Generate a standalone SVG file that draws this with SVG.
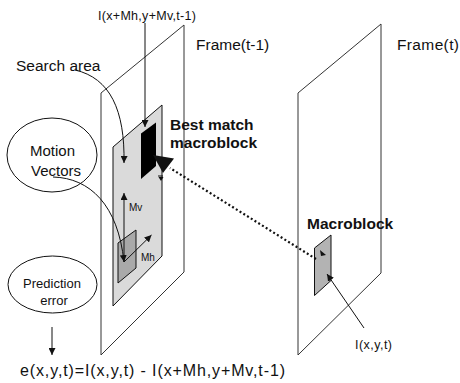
<svg xmlns="http://www.w3.org/2000/svg" width="460" height="383" viewBox="0 0 460 383">
<style>
text{font-family:"Liberation Sans",Arial,sans-serif;fill:#111}
.frame{fill:none;stroke:#333;stroke-width:1}
.ln{fill:none;stroke:#111;stroke-width:1}
.bold{font-weight:bold}
</style>
<defs>
<marker id="ah" viewBox="0 0 10 10" refX="10" refY="5" markerUnits="userSpaceOnUse" markerWidth="7" markerHeight="7" orient="auto">
<path d="M0,0 L10,5 L0,10 Z" fill="#111"/>
</marker>
</defs>
<rect width="460" height="383" fill="#fff"/>

<g id="frame-t-1">
<polygon class="frame" points="101,93 184,25 184,272 101,355"/>
<text x="196" y="50" font-size="15.5">Frame(t-1)</text>
</g>
<g id="frame-t">
<polygon class="frame" points="298,93 381,24 381,273 298,355"/>
<text x="397" y="50" font-size="15.5" textLength="62">Frame(t)</text>
</g>
<g id="search-area">
<polygon points="113,147 162,105 162,256 113,306" fill="#dadada" stroke="#111" stroke-width="1"/>
<text x="16" y="71" font-size="15.5">Search area</text>
</g>
<g id="best-match">
<polygon points="141,133.5 156,122.5 156,166 141,179" fill="#000"/>
<text class="bold" x="170" y="130" font-size="15.5">Best match</text>
<text class="bold" x="170" y="148" font-size="15.5">macroblock</text>
</g>
<g id="candidate-block">
<polygon points="118,243 136,230 136,268 118,283" fill="#a9a9a9" stroke="#111" stroke-width="1"/>
<text x="129" y="211" font-size="10">Mv</text>
<text x="141" y="261" font-size="10">Mh</text>
</g>
<g id="macroblock">
<polygon points="314.5,248 331,235 331,280.5 314.5,295.5" fill="#b3b3b3" stroke="#111" stroke-width="1"/>
<text class="bold" x="307" y="229" font-size="15.5">Macroblock</text>
</g>
<g id="motion-vectors">
<ellipse cx="52" cy="155" rx="45" ry="37" fill="none" stroke="#111" stroke-width="1"/>
<text x="30" y="156" font-size="15">Motion</text>
<text x="31" y="176" font-size="15">Vectors</text>
</g>
<g id="prediction-error">
<ellipse cx="52.5" cy="284.5" rx="44.5" ry="28.5" fill="none" stroke="#111" stroke-width="1"/>
<text x="52" y="288" font-size="13" text-anchor="middle">Prediction</text>
<text x="54" y="305" font-size="13" text-anchor="middle">error</text>
</g>
<g id="labels">
<text x="98" y="20" font-size="12.5" textLength="98">I(x+Mh,y+Mv,t-1)</text>
<text x="355" y="349" font-size="12.5" textLength="37">I(x,y,t)</text>
<text x="20" y="376" font-size="16" textLength="265">e(x,y,t)=I(x,y,t) - I(x+Mh,y+Mv,t-1)</text>
</g>
<g id="connectors">
<path class="ln" d="M145,23 L145,127" marker-end="url(#ah)"/>
<path class="ln" d="M75,70 C110,78 125,110 124,163" marker-end="url(#ah)"/>
<path class="ln" d="M53,177 C90,178 118,205 124,262" marker-end="url(#ah)"/>
<path class="ln" d="M124,262 L124,193" marker-end="url(#ah)"/>
<path class="ln" d="M124,262 L151.5,235" marker-end="url(#ah)"/>
<path class="ln" d="M364,328 L327,274" marker-end="url(#ah)"/>
<path class="ln" d="M52,327 L52,355" marker-end="url(#ah)"/>
<path d="M316,259 L170,168" fill="none" stroke="#111" stroke-width="2.2" stroke-dasharray="2 2.4"/>
<polygon points="153,155 174,158.5 163,173" fill="#111"/>
<path d="M158,176 L163,176" stroke="#111" stroke-width="1"/>
<polygon points="158.5,177 163.5,177 161,181" fill="#111"/>
<polygon points="320,250 326,255 321,256" fill="#111"/>
</g>
</svg>
